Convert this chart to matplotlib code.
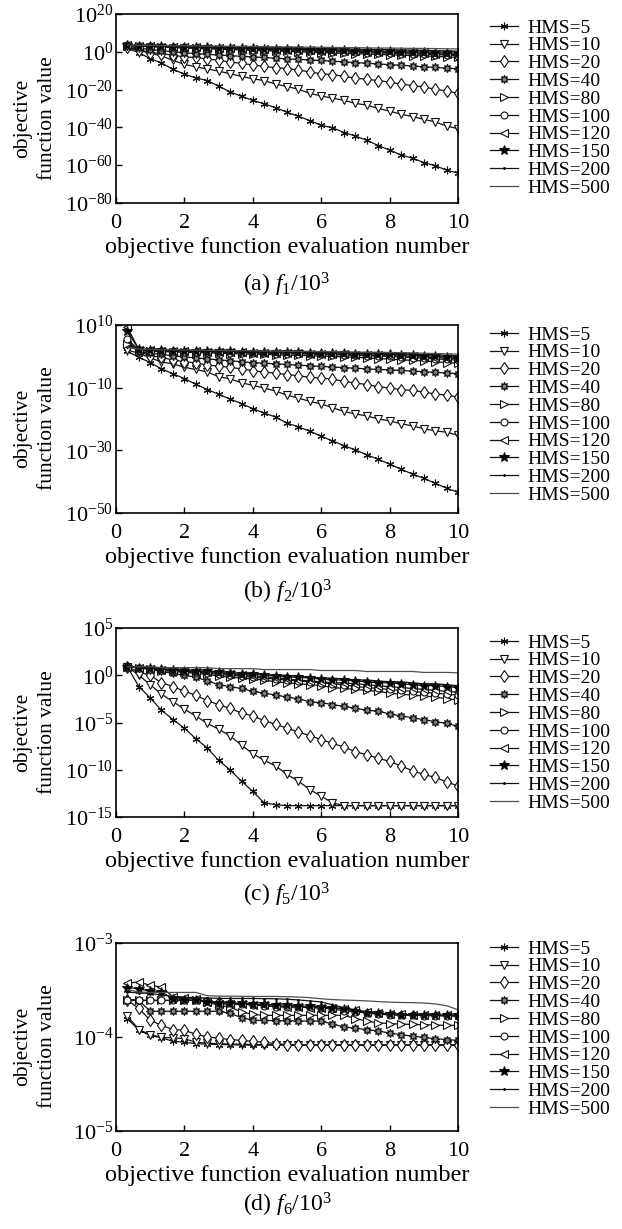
import numpy as np
import matplotlib.pyplot as plt

plt.rcParams['font.family'] = ['Liberation Serif', 'DejaVu Serif']
plt.rcParams['mathtext.fontset'] = 'custom'
plt.rcParams['mathtext.rm'] = 'Liberation Serif'
plt.rcParams['mathtext.it'] = 'Liberation Serif:italic'

# evaluation number / 10^3
evals = [0.33, 0.67, 1.0, 1.33, 1.67, 2.0, 2.33, 2.67, 3.0, 3.33,
         3.67, 4.0, 4.33, 4.67, 5.0, 5.33, 5.67, 6.0, 6.33, 6.67,
         7.0, 7.33, 7.67, 8.0, 8.33, 8.67, 9.0, 9.33, 9.67, 10.0]

hms_labels = ['HMS=5', 'HMS=10', 'HMS=20', 'HMS=40', 'HMS=80',
              'HMS=100', 'HMS=120', 'HMS=150', 'HMS=200', 'HMS=500']

# f1: log10 of objective value, one row per HMS
f1_log = [
    [1.8, -0.5, -3.6, -5.9, -9.3, -11.8, -13.8, -15.2, -18.2, -21.1, -23.6, -25.7, -27.5, -29.6, -32.0,
     -34.1, -36.4, -38.9, -40.2, -42.7, -44.6, -46.8, -49.6, -52.0, -54.5, -56.3, -58.6, -60.2, -62.7, -64.1],
    [2.0, 0.8, -0.8, -2.1, -4.6, -6.6, -8.0, -9.1, -10.2, -11.6, -13.0, -14.3, -15.2, -17.1, -18.4,
     -19.8, -22.0, -23.4, -24.5, -25.7, -27.3, -28.2, -30.0, -31.4, -33.0, -34.3, -35.7, -37.1, -39.3, -40.7],
    [2.5, 1.2, -0.4, -0.9, -1.8, -2.7, -3.0, -3.8, -4.5, -5.4, -6.1, -7.0, -7.7, -8.4, -8.9,
     -9.6, -10.7, -11.6, -12.1, -13.0, -13.9, -14.6, -15.2, -16.1, -17.0, -17.9, -18.6, -19.8, -20.7, -22.0],
    [3.0, 2.0, 1.2, 0.6, 0.0, -0.5, -0.9, -1.3, -1.7, -2.0, -2.4, -2.7, -3.0, -3.4, -3.7,
     -4.0, -4.3, -4.6, -5.0, -5.3, -5.7, -6.0, -6.4, -6.8, -7.1, -7.5, -7.9, -8.3, -8.6, -9.0],
    [3.3, 3.0, 2.7, 2.4, 2.2, 2.0, 1.8, 1.6, 1.4, 1.2, 1.0, 0.8, 0.6, 0.4, 0.2,
     0.0, -0.2, -0.4, -0.6, -0.8, -1.0, -1.2, -1.4, -1.6, -1.8, -2.0, -2.2, -2.4, -2.7, -3.0],
    [3.4, 3.1, 2.9, 2.7, 2.5, 2.3, 2.1, 1.9, 1.7, 1.5, 1.4, 1.2, 1.0, 0.9, 0.7,
     0.5, 0.4, 0.2, 0.0, -0.1, -0.3, -0.5, -0.6, -0.8, -1.0, -1.1, -1.3, -1.5, -1.7, -2.0],
    [3.5, 3.2, 3.0, 2.8, 2.6, 2.5, 2.3, 2.1, 2.0, 1.8, 1.7, 1.5, 1.4, 1.2, 1.1,
     0.9, 0.8, 0.6, 0.5, 0.3, 0.2, 0.0, -0.1, -0.3, -0.5, -0.6, -0.8, -1.0, -1.2, -1.5],
    [3.5, 3.3, 3.1, 2.9, 2.8, 2.6, 2.5, 2.4, 2.2, 2.1, 2.0, 1.8, 1.7, 1.6, 1.4,
     1.3, 1.2, 1.0, 0.9, 0.8, 0.6, 0.5, 0.4, 0.2, 0.1, -0.1, -0.2, -0.4, -0.6, -0.8],
    [3.6, 3.4, 3.2, 3.1, 3.0, 2.9, 2.8, 2.7, 2.6, 2.5, 2.4, 2.3, 2.2, 2.1, 2.0,
     1.9, 1.8, 1.7, 1.6, 1.5, 1.4, 1.3, 1.2, 1.1, 1.0, 0.9, 0.8, 0.6, 0.5, 0.3],
    [3.6, 3.5, 3.4, 3.3, 3.2, 3.2, 3.1, 3.0, 3.0, 2.9, 2.8, 2.8, 2.7, 2.6, 2.6,
     2.5, 2.4, 2.4, 2.3, 2.2, 2.2, 2.1, 2.0, 2.0, 1.9, 1.8, 1.8, 1.7, 1.6, 1.5],
]

# f2: log10 of objective value
f2_log = [
    [1.6, -0.3, -2.0, -4.0, -5.6, -7.1, -8.9, -10.6, -12.1, -13.6, -15.1, -16.7, -18.1, -19.4, -21.3,
     -22.5, -23.9, -25.5, -27.0, -28.5, -29.9, -31.4, -32.9, -34.4, -36.0, -37.6, -38.9, -40.5, -42.1, -43.4],
    [2.0, 1.0, -0.5, -1.8, -2.4, -3.5, -4.2, -5.0, -6.5, -7.2, -8.4, -9.3, -10.1, -11.1, -12.4,
     -13.3, -14.4, -15.2, -16.4, -17.6, -18.4, -19.0, -20.0, -20.6, -21.5, -22.2, -23.1, -23.8, -24.2, -25.2],
    [4.5, 1.5, 0.2, -0.3, -1.2, -1.7, -2.1, -2.8, -3.1, -3.5, -4.0, -4.6, -5.0, -5.4, -5.8,
     -6.2, -6.7, -6.9, -7.3, -8.0, -8.5, -9.0, -9.7, -10.1, -10.6, -10.9, -11.4, -12.0, -12.4, -13.0],
    [5.0, 1.5, 1.0, 0.6, 0.2, -0.2, -0.5, -0.8, -1.1, -1.4, -1.7, -2.0, -2.2, -2.4, -2.6,
     -2.8, -3.0, -3.2, -3.4, -3.6, -3.8, -4.0, -4.2, -4.3, -4.5, -4.7, -4.9, -5.1, -5.3, -5.5],
    [4.0, 1.8, 1.6, 1.5, 1.4, 1.3, 1.2, 1.1, 1.0, 0.9, 0.8, 0.7, 0.6, 0.5, 0.4,
     0.3, 0.2, 0.1, 0.0, -0.2, -0.3, -0.5, -0.7, -0.9, -1.1, -1.3, -1.5, -1.7, -2.0, -2.2],
    [5.5, 2.0, 1.8, 1.7, 1.6, 1.5, 1.5, 1.4, 1.3, 1.2, 1.2, 1.1, 1.0, 0.9, 0.9,
     0.8, 0.7, 0.6, 0.5, 0.4, 0.3, 0.2, 0.1, 0.0, -0.2, -0.4, -0.6, -0.8, -1.0, -1.2],
    [9.3, 2.1, 1.9, 1.8, 1.7, 1.6, 1.6, 1.5, 1.4, 1.4, 1.3, 1.2, 1.2, 1.1, 1.0,
     1.0, 0.9, 0.8, 0.7, 0.6, 0.5, 0.4, 0.3, 0.2, 0.1, 0.0, -0.2, -0.4, -0.6, -0.8],
    [8.0, 2.2, 2.0, 1.9, 1.8, 1.8, 1.7, 1.7, 1.6, 1.6, 1.5, 1.5, 1.4, 1.4, 1.3,
     1.3, 1.2, 1.1, 1.1, 1.0, 0.9, 0.8, 0.7, 0.6, 0.5, 0.4, 0.2, 0.0, -0.2, -0.4],
    [3.0, 2.2, 2.1, 2.0, 1.9, 1.9, 1.8, 1.8, 1.7, 1.7, 1.6, 1.6, 1.5, 1.5, 1.4,
     1.4, 1.3, 1.3, 1.2, 1.2, 1.1, 1.0, 1.0, 0.9, 0.8, 0.7, 0.6, 0.5, 0.3, 0.2],
    [3.0, 2.3, 2.2, 2.1, 2.1, 2.0, 2.0, 1.9, 1.9, 1.8, 1.8, 1.8, 1.7, 1.7, 1.6,
     1.6, 1.6, 1.5, 1.5, 1.4, 1.4, 1.3, 1.3, 1.2, 1.2, 1.1, 1.0, 0.9, 0.8, 0.7],
]

# f5: log10 of objective value
f5_log = [
    [0.9, -1.2, -2.4, -3.7, -4.7, -5.6, -6.7, -7.7, -9.0, -10.0, -11.2, -12.3, -13.5, -13.7, -13.8,
     -13.8, -13.8, -13.8, -13.8, -13.8, -13.8, -13.8, -13.8, -13.8, -13.8, -13.8, -13.8, -13.8, -13.8, -13.8],
    [0.9, 0.0, -1.0, -2.0, -2.8, -3.6, -4.3, -5.1, -5.7, -6.4, -7.4, -8.3, -9.0, -9.6, -10.5,
     -11.2, -12.1, -12.8, -13.5, -13.8, -13.8, -13.8, -13.8, -13.8, -13.8, -13.8, -13.8, -13.8, -13.8, -13.8],
    [0.9, 0.35, 0.0, -0.8, -1.2, -1.7, -2.1, -2.7, -3.1, -3.5, -4.0, -4.3, -4.8, -5.2, -5.6,
     -6.0, -6.4, -6.8, -7.2, -7.6, -8.1, -8.4, -8.8, -9.1, -9.6, -10.1, -10.5, -10.8, -11.3, -11.7],
    [0.9, 0.8, 0.6, 0.4, 0.2, 0.0, -0.2, -0.6, -1.0, -1.2, -1.4, -1.7, -1.9, -2.1, -2.3,
     -2.5, -2.8, -2.9, -3.1, -3.3, -3.5, -3.7, -3.8, -4.1, -4.3, -4.5, -4.7, -4.9, -5.1, -5.4],
    [0.9, 0.8, 0.7, 0.5, 0.4, 0.3, 0.2, 0.1, -0.1, -0.2, -0.3, -0.4, -0.5, -0.7, -0.8,
     -0.9, -1.0, -1.1, -1.3, -1.4, -1.5, -1.6, -1.7, -1.9, -2.0, -2.1, -2.2, -2.3, -2.5, -2.6],
    [0.9, 0.8, 0.7, 0.6, 0.5, 0.4, 0.3, 0.2, 0.1, 0.0, -0.1, -0.2, -0.3, -0.4, -0.5,
     -0.6, -0.7, -0.8, -0.9, -1.0, -1.2, -1.3, -1.4, -1.5, -1.6, -1.7, -1.8, -1.9, -2.0, -2.1],
    [0.9, 0.8, 0.7, 0.6, 0.5, 0.4, 0.3, 0.3, 0.2, 0.1, 0.0, -0.1, -0.2, -0.3, -0.4,
     -0.5, -0.6, -0.7, -0.8, -0.8, -0.9, -1.0, -1.1, -1.2, -1.3, -1.4, -1.5, -1.6, -1.7, -1.8],
    [0.9, 0.8, 0.8, 0.7, 0.6, 0.5, 0.4, 0.4, 0.3, 0.2, 0.1, 0.1, 0.0, -0.1, -0.2,
     -0.2, -0.3, -0.4, -0.5, -0.5, -0.6, -0.7, -0.8, -0.8, -0.9, -1.0, -1.1, -1.1, -1.2, -1.3],
    [0.9, 0.8, 0.8, 0.7, 0.6, 0.6, 0.5, 0.4, 0.4, 0.3, 0.2, 0.2, 0.1, 0.0, 0.0,
     -0.1, -0.2, -0.3, -0.3, -0.4, -0.5, -0.5, -0.6, -0.7, -0.7, -0.8, -0.9, -0.9, -1.0, -1.1],
    [0.9, 0.9, 0.9, 0.8, 0.8, 0.8, 0.8, 0.8, 0.7, 0.7, 0.7, 0.7, 0.6, 0.6, 0.6,
     0.6, 0.6, 0.5, 0.5, 0.5, 0.5, 0.4, 0.4, 0.4, 0.4, 0.4, 0.3, 0.3, 0.3, 0.25],
]

# f6: objective value in units of 1e-4
f6_val = [
    [1.57, 1.18, 1.04, 0.98, 0.90, 0.88, 0.85, 0.84, 0.83, 0.83, 0.82, 0.82, 0.82, 0.82, 0.82,
     0.82, 0.82, 0.82, 0.82, 0.82, 0.82, 0.82, 0.82, 0.82, 0.82, 0.82, 0.82, 0.82, 0.82, 0.82],
    [1.68, 1.20, 1.06, 0.99, 0.98, 0.96, 0.88, 0.86, 0.85, 0.84, 0.84, 0.83, 0.83, 0.83, 0.83,
     0.82, 0.82, 0.82, 0.82, 0.82, 0.82, 0.82, 0.82, 0.82, 0.82, 0.82, 0.82, 0.82, 0.82, 0.82],
    [2.47, 2.01, 1.51, 1.33, 1.20, 1.18, 1.07, 1.00, 0.97, 0.94, 0.92, 0.90, 0.88, 0.85, 0.83,
     0.82, 0.82, 0.82, 0.82, 0.82, 0.82, 0.82, 0.82, 0.82, 0.82, 0.82, 0.82, 0.82, 0.82, 0.82],
    [2.45, 2.45, 1.88, 1.88, 1.88, 1.88, 1.88, 1.88, 1.88, 1.78, 1.61, 1.51, 1.50, 1.49, 1.49,
     1.48, 1.48, 1.48, 1.37, 1.28, 1.24, 1.20, 1.16, 1.10, 1.06, 1.02, 0.99, 0.96, 0.94, 0.92],
    [2.50, 2.45, 2.45, 2.45, 2.45, 2.45, 2.45, 2.36, 2.17, 2.08, 1.85, 1.74, 1.70, 1.70, 1.70,
     1.70, 1.70, 1.70, 1.70, 1.70, 1.57, 1.48, 1.41, 1.39, 1.37, 1.36, 1.35, 1.34, 1.33, 1.33],
    [2.50, 2.45, 2.45, 2.45, 2.45, 2.45, 2.45, 2.40, 2.35, 2.30, 2.25, 2.20, 2.15, 2.10, 2.10,
     2.08, 2.06, 2.04, 1.98, 1.90, 1.85, 1.80, 1.75, 1.72, 1.70, 1.70, 1.69, 1.68, 1.67, 1.66],
    [3.75, 3.84, 3.55, 3.40, 2.66, 2.62, 2.56, 2.36, 2.26, 2.22, 2.22, 2.20, 2.17, 2.12, 2.08,
     2.08, 2.05, 2.05, 2.05, 2.00, 1.92, 1.85, 1.80, 1.76, 1.74, 1.72, 1.71, 1.70, 1.70, 1.70],
    [3.35, 3.27, 3.06, 3.00, 2.56, 2.50, 2.45, 2.35, 2.30, 2.30, 2.28, 2.25, 2.22, 2.20, 2.18,
     2.15, 2.12, 2.10, 2.05, 1.98, 1.90, 1.82, 1.78, 1.75, 1.73, 1.72, 1.71, 1.70, 1.70, 1.70],
    [3.00, 2.95, 2.90, 2.80, 2.70, 2.65, 2.62, 2.60, 2.58, 2.57, 2.57, 2.57, 2.56, 2.55, 2.52,
     2.48, 2.42, 2.36, 2.20, 2.05, 1.95, 1.85, 1.80, 1.76, 1.74, 1.73, 1.72, 1.71, 1.70, 1.70],
    [3.20, 3.00, 2.98, 2.98, 2.98, 2.98, 2.98, 2.75, 2.72, 2.72, 2.71, 2.70, 2.70, 2.70, 2.68,
     2.66, 2.62, 2.55, 2.50, 2.47, 2.45, 2.42, 2.38, 2.35, 2.33, 2.32, 2.30, 2.25, 2.15, 1.95],
]

# marker styles per HMS: (marker, size, face colour)
styles = [((6, 2, 0), 5.5, 'k'), ('v', 5.5, 'white'), ('d', 6, 'white'), ((8, 1, 0), 6, '0.5'),
          ('>', 5.5, 'white'), ('o', 5, 'white'), ('<', 5.5, 'white'), ('*', 7.5, 'k'),
          ('.', 2.5, 'k'), (None, 0, 'k')]

W, H = 622, 1229
fig = plt.figure(figsize=(W / 100, H / 100), dpi=100)

panels = [
    (np.power(10.0, f1_log), (1e-80, 1e20), [20, 0, -20, -40, -60, -80], '(a) $f_1/10^3$', 14, 203, 285, 28),
    (np.power(10.0, f2_log), (1e-50, 1e10), [10, -10, -30, -50], '(b) $f_2/10^3$', 325, 513, 592, 335),
    (np.power(10.0, f5_log), (1e-15, 1e5), [5, 0, -5, -10, -15], '(c) $f_5/10^3$', 628, 817, 895, 643),
    (np.array(f6_val) * 1e-4, (1e-5, 1e-3), [-3, -4, -5], '(d) $f_6/10^3$', 943, 1131, 1205, 949),
]

left, right = 116, 458
for vals, ylim, exps, caption, top, bottom, cap_y, leg_y in panels:
    ax = fig.add_axes([left / W, 1 - bottom / H, (right - left) / W, (bottom - top) / H])
    for i in range(len(hms_labels)):
        m, ms, fc = styles[i]
        ax.plot(evals, vals[i], color='0.3' if i == 9 else '#111111', lw=0.9,
                marker=m, ms=ms, mfc=fc, mec='#111111', mew=0.8, label=hms_labels[i])
    ax.set_yscale('log')
    ax.set_ylim(ylim)
    ax.set_xlim(0, 10)
    ax.minorticks_off()
    ax.set_yticks([10.0 ** e for e in exps])
    ax.set_yticklabels([r'$\mathregular{10^{%d}}$' % e for e in exps])
    ax.set_xticks([0, 2, 4, 6, 8, 10])
    ax.tick_params(direction='in', length=4, width=1.0, labelsize=16)
    ax.tick_params(axis='y', pad=2)
    ax.tick_params(axis='x', pad=8)
    for s in ax.spines.values():
        s.set_linewidth(1.2)
    ax.set_xlabel('objective function evaluation number', fontsize=17.5)
    ax.xaxis.label.set_va('center')
    ax.xaxis.set_label_coords(0.5, -44 / (bottom - top))
    ax.set_ylabel('objective\nfunction value', fontsize=15.5, linespacing=1.4)
    ax.yaxis.label.set_va('center')
    ax.yaxis.set_label_coords(-81 / (right - left), 0.45)
    ax.legend(loc='upper left', bbox_to_anchor=(490 / W, 1 - (leg_y - 9) / H),
              bbox_transform=fig.transFigure, frameon=False, fontsize=14,
              borderpad=0, borderaxespad=0, handlelength=1.45, handletextpad=0.45,
              labelspacing=0.01)
    fig.text(287 / W, 1 - cap_y / H, caption, ha='center', va='center', fontsize=17)

fig.savefig('out.png', dpi=100)
